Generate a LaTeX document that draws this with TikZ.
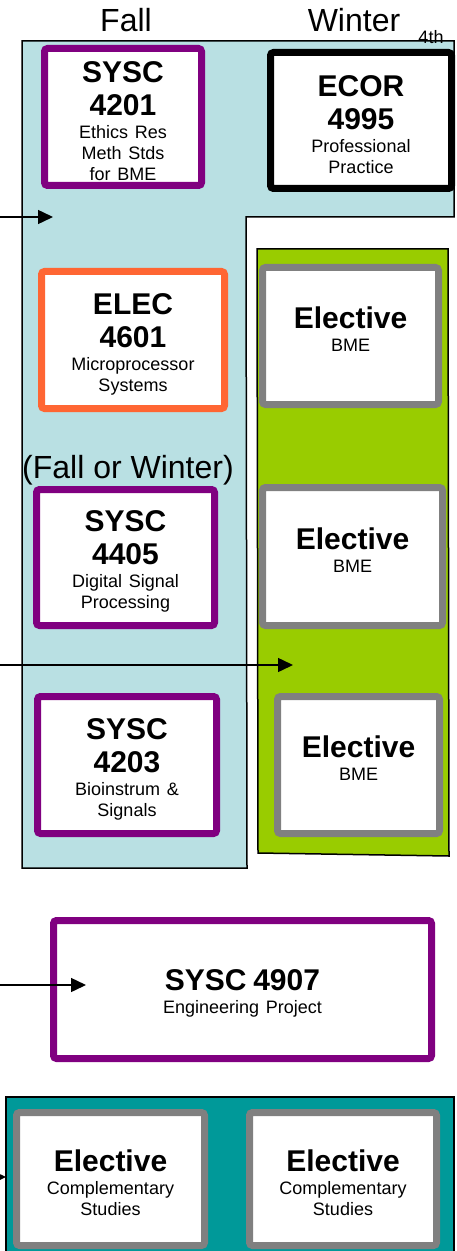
\documentclass[tikz,border=0pt]{standalone}
\usepackage{fontspec}
\setmainfont{Liberation Sans}
\usetikzlibrary{arrows.meta}

\definecolor{yearblue}{HTML}{B9E0E3}
\definecolor{bmegreen}{HTML}{99CC00}
\definecolor{csteal}{HTML}{009999}
\definecolor{syscpurple}{HTML}{800080}
\definecolor{elecorange}{HTML}{FF6633}
\definecolor{electgray}{HTML}{808080}

% course code (bold) over course title (small); the strut gives some top inset
\newcommand{\crscode}[1]{{\fontsize{15}{16.6}\selectfont\bfseries\rule{0pt}{14.5pt}#1\par}\vspace{1pt}}
\newcommand{\crsname}[1]{{\fontsize{9}{10.5}\selectfont #1\par}}

\begin{document}
\begin{tikzpicture}[x=0.5pt, y=-0.5pt]
    \tikzstyle{course}=[rectangle, fill=white, line width=3.5pt, rounded corners=1.5pt,
                        inner sep=0pt, text width=76pt, align=center]
    \tikzstyle{sysc course}=[course, draw=syscpurple]
    \tikzstyle{elec course}=[course, draw=elecorange]
    \tikzstyle{ecor course}=[course, draw=black]
    \tikzstyle{elective}=[course, draw=electgray]

    \tikzstyle{region}=[draw=black, line width=0.75pt]
    \tikzstyle{term}=[font=\fontsize{16}{19}\selectfont]
    \tikzstyle{flow}=[draw=black, line width=0.75pt, -{Triangle[length=7.5pt, width=7pt]}]

    \useasboundingbox (0,0) rectangle (456,1251);
    \clip (0,0) rectangle (456,1251);

    % year block, BME electives and complementary studies
    \path[region, fill=yearblue] (22,41) -- (454,41) -- (454,217) -- (246,217)
        -- (247,868) -- (22,868) -- cycle;
    \path[region, fill=bmegreen] (257,249) -- (448,249) -- (449,856) -- (258,853) -- cycle;
    \path[region, fill=csteal] (6,1097) rectangle (454,1280);

    % term headings
    \node[term] (fall) at (126,20) {Fall};
    \node[term] (winter) at (354,20) {Winter};
    \node[font=\fontsize{9}{10.5}\selectfont] (year) at (431,37) {4th};

    % fall column
    \node[sysc course, minimum width=78.5pt, minimum height=68.5pt] (S4201) at (123,117)
        {\crscode{SYSC\\4201}\crsname{Ethics Res\\Meth Stds\\for BME}};
    \node[elec course, minimum width=91.5pt, minimum height=68.5pt] (E4601) at (133,340)
        {\crscode{ELEC\\4601}\crsname{Microprocessor\\Systems}};
    \node[term] (either) at (128,470) {(Fall or Winter)};
    \node[sysc course, minimum width=89pt, minimum height=68pt] (S4405) at (125.5,557.5)
        {\crscode{SYSC\\4405}\crsname{Digital Signal\\Processing}};
    \node[sysc course, minimum width=89.5pt, minimum height=68.5pt] (S4203) at (127,765)
        {\crscode{SYSC\\4203}\crsname{Bioinstrum \&\\Signals}};

    % winter column
    \node[ecor course, minimum width=90.5pt, minimum height=68pt] (C4995) at (361,120.5)
        {\crscode{ECOR\\4995}\crsname{Professional\\Practice}};
    \node[elective, minimum width=88pt, minimum height=68.5pt] (BME-1) at (350.5,336)
        {\crscode{Elective}\crsname{BME\\\mbox{}}};
    \node[elective, minimum width=90pt, minimum height=69pt] (BME-2) at (352.5,556.5)
        {\crscode{Elective}\crsname{BME\\\mbox{}}};
    \node[elective, minimum width=81pt, minimum height=68.5pt] (BME-3) at (358.5,765)
        {\crscode{Elective}\crsname{BME\\\mbox{}}};

    % project and complementary studies
    \node[sysc course, text width=150pt, minimum width=189pt, minimum height=69pt] (S4907) at (242.5,989.5)
        {\crscode{SYSC 4907}\crsname{Engineering Project}};
    \node[elective, minimum width=94pt, minimum height=66.5pt] (CS-1) at (110.5,1179)
        {\crscode{Elective}\crsname{Complementary\\Studies}};
    \node[elective, minimum width=93.5pt, minimum height=66.5pt] (CS-2) at (343,1179)
        {\crscode{Elective}\crsname{Complementary\\Studies}};

    % incoming prerequisite arrows
    \coordinate (in-1) at (0,217);   \coordinate (to-1) at (53,217);
    \coordinate (in-2) at (0,665);   \coordinate (to-2) at (293,665);
    \coordinate (in-3) at (0,985);   \coordinate (to-3) at (86,985);
    \coordinate (in-4) at (-20,1177); \coordinate (to-4) at (6,1177);
    \foreach \i in {1,...,4}
        \draw[flow] (in-\i) -- (to-\i);
\end{tikzpicture}
\end{document}
